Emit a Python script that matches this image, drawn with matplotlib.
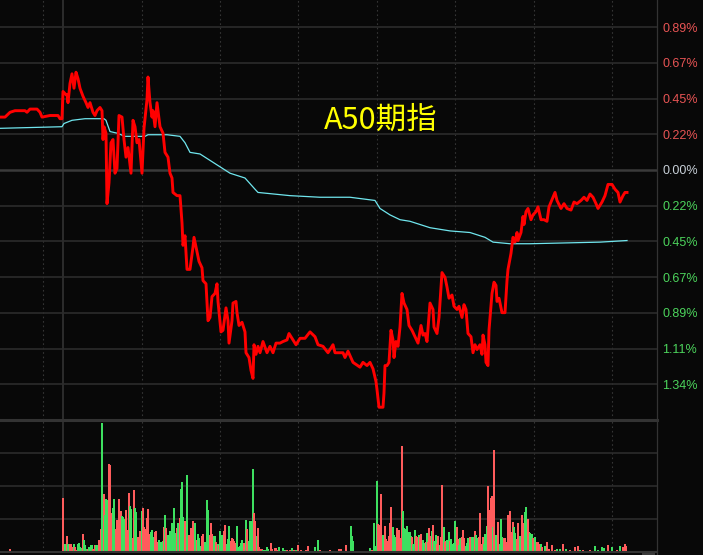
import matplotlib
matplotlib.use('Agg')
import matplotlib.pyplot as plt
from matplotlib.lines import Line2D
from matplotlib.patches import Rectangle

plt.rcParams['font.family'] = ['Liberation Sans', 'Noto Sans CJK SC', 'DejaVu Sans']

title = 'A50期指'

# right axis: one step = 0.2228 %
step = 0.2228
tick_steps = [4, 3, 2, 1, 0, -1, -2, -3, -4, -5, -6]
tick_labels = ['0.89%', '0.67%', '0.45%', '0.22%', '0.00%', '0.22%',
               '0.45%', '0.67%', '0.89%', '1.11%', '1.34%']

# minute index (0..657 across the session) and change in %
price_t = [0, 5, 10, 15, 25, 27, 30, 37, 40, 42, 50, 58, 60, 62, 63, 66, 67, 68, 70, 72,
           74, 76, 78, 80, 83, 86, 88, 90, 93, 95, 97, 100, 102, 103, 104, 106, 107, 109, 111, 113,
           115, 117, 119, 122, 124, 126, 128, 131, 133, 135, 137, 139, 142, 144, 147, 148, 150, 152, 153, 155,
           157, 158, 160, 163, 165, 168, 170, 172, 173, 177, 180, 182, 183, 185, 187, 190, 193, 194, 197, 199,
           202, 203, 206, 208, 210, 212, 215, 217, 218, 221, 223, 226, 228, 229, 232, 233, 236, 237, 239, 242,
           245, 246, 249, 251, 253, 254, 256, 258, 260, 263, 267, 270, 273, 276, 280, 283, 287, 289, 293, 296,
           300, 305, 310, 315, 318, 323, 328, 333, 335, 343, 345, 348, 353, 360, 363, 367, 370, 373, 376, 377,
           379, 383, 384, 385, 387, 389, 391, 393, 394, 396, 398, 400, 402, 404, 407, 409, 412, 415, 418, 421,
           423, 425, 427, 430, 433, 434, 437, 439, 442, 445, 447, 449, 452, 454, 457, 459, 462, 464, 466, 468,
           471, 473, 475, 477, 480, 482, 483, 485, 486, 488, 489, 492, 494, 496, 497, 499, 502, 505, 507, 508,
           511, 513, 515, 517, 518, 521, 523, 524, 526, 528, 531, 533, 536, 538, 541, 544, 547, 549, 553, 555,
           557, 561, 564, 567, 571, 574, 577, 581, 584, 587, 590, 593, 596, 598, 602, 605, 608, 612, 615, 618,
           620, 623, 625, 627]
price_pct = [0.33, 0.33, 0.36, 0.37, 0.37, 0.36, 0.38, 0.38, 0.36, 0.33, 0.34, 0.34, 0.32, 0.32, 0.49, 0.47, 0.47, 0.42, 0.54, 0.60,
             0.51, 0.61, 0.57, 0.51, 0.46, 0.42, 0.39, 0.42, 0.36, 0.34, 0.37, 0.39, 0.37, 0.19, 0.27, 0.23, -0.21, -0.08, 0.17, 0.19,
             -0.02, 0.01, 0.34, 0.33, 0.19, 0.08, 0.14, -0.02, 0.31, 0.27, 0.17, 0.19, -0.02, 0.26, 0.44, 0.58, 0.42, 0.33, 0.37, 0.27,
             0.42, 0.37, 0.27, 0.23, 0.11, 0.08, -0.02, -0.05, -0.14, -0.16, -0.16, -0.33, -0.47, -0.41, -0.62, -0.62, -0.48, -0.42, -0.51, -0.57,
             -0.61, -0.69, -0.71, -0.94, -0.92, -0.79, -0.77, -0.71, -0.82, -1.01, -1.00, -0.86, -0.94, -1.08, -0.94, -0.83, -0.82, -0.89, -0.97, -0.95,
             -1.01, -1.14, -1.17, -1.25, -1.30, -1.09, -1.15, -1.10, -1.14, -1.07, -1.14, -1.10, -1.14, -1.08, -1.08, -1.07, -1.06, -1.02, -1.06, -1.09,
             -1.05, -1.05, -1.01, -1.04, -1.09, -1.10, -1.14, -1.09, -1.14, -1.14, -1.17, -1.13, -1.20, -1.23, -1.20, -1.22, -1.20, -1.24, -1.32, -1.37,
             -1.48, -1.48, -1.39, -1.22, -1.22, -1.20, -1.00, -1.06, -1.17, -1.07, -1.10, -0.98, -0.77, -0.83, -0.87, -0.97, -1.00, -1.04, -1.08, -0.97,
             -1.03, -1.02, -1.07, -0.83, -0.87, -0.98, -1.02, -0.92, -0.64, -0.67, -0.73, -0.80, -0.78, -0.85, -0.87, -0.85, -0.92, -0.84, -0.87, -1.02,
             -1.04, -1.14, -1.09, -1.12, -1.09, -1.15, -1.03, -1.09, -1.20, -1.22, -1.00, -0.77, -0.70, -0.72, -0.82, -0.80, -0.89, -0.89, -0.69, -0.62,
             -0.52, -0.42, -0.45, -0.39, -0.44, -0.39, -0.29, -0.34, -0.26, -0.24, -0.31, -0.28, -0.26, -0.23, -0.31, -0.31, -0.32, -0.23, -0.17, -0.14,
             -0.19, -0.24, -0.21, -0.24, -0.25, -0.20, -0.21, -0.19, -0.17, -0.19, -0.15, -0.17, -0.21, -0.24, -0.20, -0.16, -0.09, -0.09, -0.12, -0.14,
             -0.20, -0.16, -0.14, -0.14]

avg_t = [0, 62, 64, 72, 85, 104, 106, 110, 117, 125, 145, 148, 167, 180, 185, 190, 200, 205, 215, 230,
         245, 255, 258, 290, 320, 350, 375, 380, 390, 400, 410, 430, 450, 470, 485, 493, 510, 530, 600, 627]
avg_pct = [0.26, 0.27, 0.29, 0.31, 0.32, 0.32, 0.31, 0.24, 0.23, 0.21, 0.21, 0.22, 0.22, 0.21, 0.17, 0.11, 0.10, 0.08, 0.04, -0.02,
           -0.05, -0.12, -0.14, -0.16, -0.17, -0.17, -0.19, -0.24, -0.28, -0.31, -0.32, -0.36, -0.38, -0.39, -0.42, -0.45, -0.46, -0.46, -0.45, -0.44]

# volume: minute, lots, 1 = up (red) / 0 = down (green)
vol_t = [2, 5, 7, 10, 14, 18, 24, 28, 31, 37, 40, 43, 45, 50, 57, 59, 62, 63, 65, 67,
         68, 70, 71, 72, 74, 75, 76, 78, 79, 80, 82, 83, 84, 85, 87, 88, 89, 91, 92, 93,
         95, 96, 97, 99, 100, 101, 102, 104, 105, 106, 107, 108, 109, 110, 112, 113, 114, 116, 117, 118,
         119, 121, 122, 123, 125, 126, 127, 129, 130, 131, 133, 134, 135, 136, 138, 139, 140, 142, 143, 144,
         146, 147, 148, 149, 151, 152, 153, 155, 156, 157, 159, 160, 161, 163, 164, 165, 166, 168, 169, 170,
         172, 173, 174, 176, 177, 178, 180, 181, 182, 183, 185, 186, 187, 189, 190, 191, 193, 194, 195, 197,
         198, 199, 201, 202, 203, 205, 207, 208, 210, 211, 212, 214, 215, 216, 218, 219, 220, 221, 223, 224,
         225, 227, 228, 229, 231, 232, 233, 234, 236, 237, 238, 240, 241, 242, 244, 245, 246, 247, 249, 250,
         251, 253, 254, 255, 257, 258, 259, 261, 262, 263, 265, 267, 268, 271, 272, 275, 276, 277, 279, 283,
         285, 287, 290, 292, 294, 296, 298, 301, 304, 306, 308, 310, 312, 315, 318, 320, 322, 325, 327, 330,
         333, 336, 339, 340, 341, 343, 346, 348, 351, 352, 353, 355, 357, 359, 361, 364, 366, 368, 370, 372,
         374, 376, 377, 378, 379, 381, 382, 383, 385, 386, 387, 389, 390, 391, 393, 394, 395, 397, 399, 400,
         402, 403, 404, 406, 407, 408, 410, 411, 412, 413, 415, 416, 417, 419, 420, 421, 423, 424, 426, 427,
         428, 429, 430, 432, 433, 434, 436, 437, 438, 440, 441, 442, 444, 445, 446, 447, 449, 450, 451, 453,
         454, 455, 457, 458, 459, 460, 462, 463, 464, 466, 467, 468, 470, 471, 472, 474, 475, 476, 477, 479,
         480, 481, 483, 484, 485, 487, 488, 489, 491, 492, 493, 494, 496, 497, 498, 500, 501, 502, 504, 505,
         506, 508, 509, 510, 511, 513, 514, 515, 517, 518, 519, 520, 522, 523, 524, 525, 526, 528, 529, 530,
         532, 533, 534, 535, 537, 538, 539, 541, 542, 545, 547, 549, 552, 555, 557, 560, 563, 566, 570, 575,
         578, 580, 583, 586, 590, 595, 598, 602, 604, 608, 612, 617, 620, 623, 625, 626]
vol_val = [3, 3, 3, 10, 3, 3, 4, 4, 3, 3, 4, 3, 4, 3, 3, 3, 4, 163, 25, 48,
           25, 25, 25, 15, 24, 15, 7, 23, 28, 15, 13, 54, 37, 22, 10, 10, 15, 22, 22, 8,
           22, 20, 20, 36, 19, 69, 390, 175, 112, 160, 157, 157, 268, 265, 118, 133, 160, 70, 97, 95,
           160, 124, 109, 107, 100, 127, 67, 178, 138, 130, 43, 187, 133, 121, 46, 28, 63, 125, 133, 77,
           70, 103, 130, 55, 60, 67, 46, 60, 64, 30, 37, 23, 30, 34, 77, 112, 73, 52, 40, 64,
           88, 44, 133, 58, 74, 88, 103, 190, 211, 107, 95, 77, 232, 52, 43, 73, 94, 77, 88, 37,
           54, 43, 19, 50, 54, 30, 157, 127, 53, 88, 54, 49, 48, 30, 25, 22, 65, 52, 52, 64,
           82, 25, 38, 79, 32, 43, 40, 32, 28, 79, 15, 19, 27, 37, 28, 22, 97, 70, 32, 94,
           94, 253, 118, 94, 49, 73, 16, 8, 10, 7, 5, 15, 10, 28, 10, 12, 12, 7, 15, 13,
           5, 7, 7, 13, 7, 5, 21, 7, 4, 5, 19, 4, 4, 16, 37, 5, 4, 4, 4, 7,
           4, 4, 10, 10, 10, 4, 22, 4, 79, 50, 34, 4, 4, 4, 4, 4, 4, 4, 13, 5,
           88, 17, 214, 85, 82, 175, 44, 52, 79, 40, 34, 49, 88, 136, 76, 52, 46, 73, 67, 43,
           322, 124, 73, 70, 79, 61, 61, 49, 46, 25, 67, 49, 46, 52, 46, 55, 37, 28, 31, 58,
           31, 73, 49, 64, 82, 34, 52, 25, 49, 22, 46, 202, 76, 31, 34, 37, 61, 34, 40, 25,
           28, 94, 76, 40, 22, 43, 46, 67, 43, 19, 28, 43, 46, 31, 46, 46, 64, 52, 43, 46,
           118, 25, 46, 25, 55, 79, 199, 127, 163, 169, 76, 310, 52, 52, 91, 25, 100, 46, 43, 43,
           31, 112, 91, 124, 61, 91, 76, 58, 40, 88, 46, 49, 112, 88, 47, 121, 136, 100, 61, 58,
           55, 43, 19, 46, 31, 31, 25, 24, 16, 19, 31, 10, 22, 7, 10, 10, 25, 10, 7, 16,
           19, 7, 7, 4, 7, 19, 6, 16, 13, 22, 16, 6, 19, 16, 25, 19]
vol_up = [1, 0, 1, 1, 1, 0, 1, 1, 1, 1, 0, 0, 0, 1, 1, 1, 0, 1, 0, 1,
          0, 1, 1, 1, 0, 1, 1, 0, 0, 0, 0, 1, 0, 0, 0, 1, 0, 0, 0, 1,
          1, 0, 0, 1, 1, 1, 0, 1, 0, 0, 0, 0, 1, 1, 1, 0, 0, 1, 1, 1,
          1, 1, 0, 0, 0, 1, 1, 1, 0, 0, 1, 1, 0, 0, 1, 1, 1, 0, 1, 1,
          1, 1, 1, 1, 0, 0, 0, 1, 1, 1, 0, 0, 0, 0, 1, 0, 1, 0, 0, 0,
          0, 0, 0, 0, 1, 0, 1, 0, 0, 0, 1, 1, 0, 1, 1, 1, 1, 1, 0, 1,
          0, 0, 0, 1, 1, 0, 0, 0, 1, 1, 1, 0, 0, 1, 0, 1, 0, 0, 0, 1,
          1, 0, 0, 0, 1, 1, 1, 1, 1, 0, 0, 0, 0, 0, 1, 1, 0, 1, 0, 0,
          0, 0, 1, 1, 0, 1, 1, 1, 1, 0, 0, 0, 0, 1, 1, 1, 1, 1, 0, 0,
          0, 1, 1, 0, 1, 0, 1, 1, 0, 1, 1, 1, 0, 0, 0, 1, 0, 1, 0, 1,
          1, 0, 1, 1, 1, 0, 1, 0, 0, 0, 0, 1, 1, 0, 1, 1, 1, 0, 0, 1,
          0, 0, 0, 1, 1, 1, 1, 0, 1, 1, 1, 1, 1, 1, 0, 0, 0, 1, 1, 1,
          1, 0, 0, 0, 0, 0, 0, 0, 1, 0, 0, 1, 1, 0, 1, 1, 0, 0, 1, 0,
          1, 1, 1, 0, 1, 0, 0, 1, 1, 0, 1, 1, 0, 1, 1, 0, 0, 1, 0, 0,
          0, 0, 1, 1, 0, 0, 1, 1, 1, 0, 0, 0, 1, 1, 0, 0, 1, 0, 0, 1,
          1, 1, 1, 0, 0, 0, 1, 1, 1, 1, 0, 1, 0, 0, 1, 0, 0, 0, 1, 1,
          1, 1, 1, 1, 1, 1, 0, 0, 1, 1, 1, 0, 1, 1, 1, 0, 0, 1, 1, 0,
          0, 1, 1, 0, 1, 1, 1, 0, 1, 0, 1, 1, 1, 1, 0, 0, 1, 0, 1, 1,
          1, 0, 1, 1, 1, 0, 0, 0, 0, 1, 0, 1, 0, 1, 1, 1]

dotted_t = [43, 142, 220, 298, 377, 455, 534, 612]
solid_t = [63]

bg = '#080808'
grid = '#2b2b2b'
W, H = 703, 555

fig = plt.figure(figsize=(W / 100, H / 100), dpi=100, facecolor=bg)
ax = fig.add_axes([0, (H - 420) / H, 657 / W, 420 / H])
axv = fig.add_axes([0, (H - 552) / H, 657 / W, 132 / H])

for a in (ax, axv):
    a.set_facecolor(bg)
    a.set_xlim(0, 657)
    a.set_xticks([])
    for sp in a.spines.values():
        sp.set_visible(False)
    for m in dotted_t:
        a.axvline(m, color='#353535', lw=0.8, ls=(0, (1.5, 2.5)), zorder=1)
    for m in solid_t:
        a.axvline(m, color='#333333', lw=1.2, zorder=1)

# price panel
ax.set_ylim(-7 * step, 4.76 * step)
ax.yaxis.tick_right()
ax.set_yticks([k * step for k in tick_steps])
ax.set_yticklabels(tick_labels)
ax.tick_params(axis='y', length=0, pad=4, labelsize=9)
for k, lab in zip(tick_steps, ax.get_yticklabels()):
    lab.set_color('#e85454' if k > 0 else ('#c8d0d8' if k == 0 else '#4cd45c'))
for k in tick_steps:
    if k == 0:
        ax.axhline(0, color='#3a3a3a', lw=1.8, zorder=1)
    else:
        ax.axhline(k * step, color=grid, lw=1.2, zorder=1)

ax.plot(avg_t, avg_pct, color='#70e6ee', lw=0.9, zorder=3)
ax.plot(price_t, price_pct, color='#ff0000', lw=2.1, zorder=4)

ax.text(381 / 657, 1 - 120 / 420, title, transform=ax.transAxes, ha='center', va='center',
        fontsize=22, color='#ffff00', family=['Noto Sans CJK SC', 'DejaVu Sans'])

# volume panel
axv.set_ylim(0, 400)
axv.set_yticks([])
for v in [100, 200, 300]:
    axv.axhline(v, color=grid, lw=1.2, zorder=1)
bar_cols = ['#ff5c5c' if u else '#3ee060' for u in vol_up]
axv.bar(vol_t, vol_val, width=1.3, color=bar_cols, linewidth=0, zorder=3)

# frame lines
fig.add_artist(Line2D([0, 657 / W], [(H - 420) / H] * 2, color='#333333', lw=2.2))
fig.add_artist(Line2D([0, 657 / W], [(H - 552) / H] * 2, color='#333333', lw=1.5))
fig.add_artist(Line2D([657 / W] * 2, [0, 1], color='#333333', lw=0.9))
fig.add_artist(Rectangle((642 / W, 0), 13 / W, 3 / H, color='#3a3a3a', lw=0))

fig.savefig('out.png', dpi=100, facecolor=bg)
